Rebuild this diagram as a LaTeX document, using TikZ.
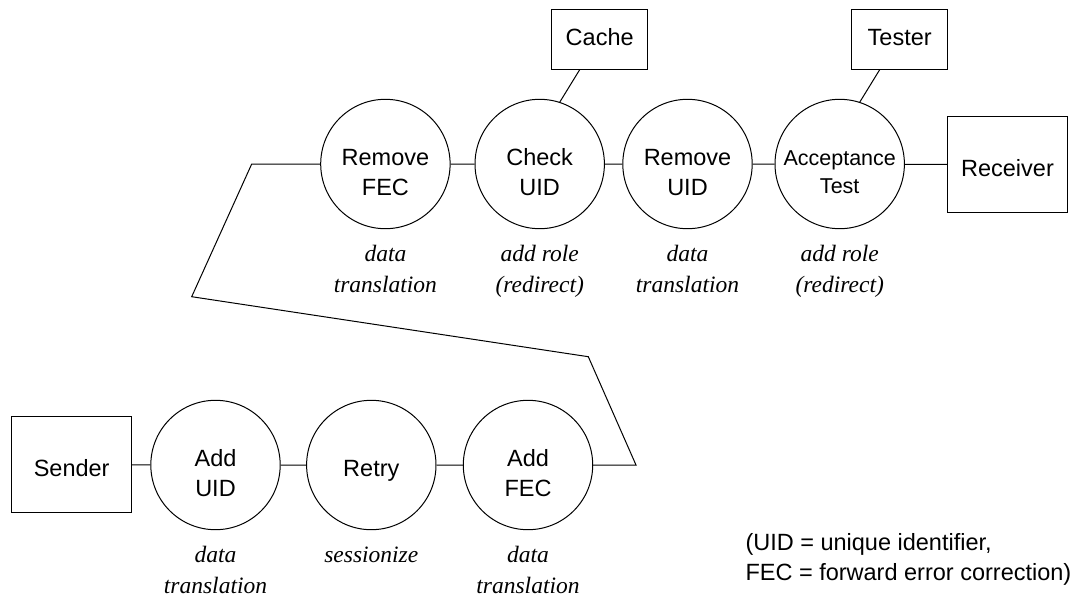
\documentclass[tikz,border=0pt]{standalone}
\usepackage{fontspec}
\setmainfont{Liberation Serif}
\setsansfont{Liberation Sans}
\usetikzlibrary{calc}

\begin{document}
\begin{tikzpicture}[x=1pt, y=-1pt, line width=1pt,
  proc/.style={draw, circle, minimum size=129.4pt, inner sep=0pt},
  bigbox/.style={draw, minimum width=120pt, minimum height=96pt, inner sep=0pt},
  smallbox/.style={draw, minimum width=96pt, minimum height=60pt, inner sep=0pt},
  txt/.style={font=\sffamily\fontsize{23.5}{30}\selectfont, inner sep=0pt, align=center},
  txtsmall/.style={font=\sffamily\fontsize{21.5}{28.5}\selectfont, inner sep=0pt, align=center},
  role/.style={font=\rmfamily\itshape\fontsize{23.5}{31}\selectfont, inner sep=0pt, align=center, anchor=north},
]
\useasboundingbox (0,0) rectangle (1077,595);

% sending side
\node[bigbox] (sender) at (71.7,464.7) {};
\node[proc] (adduid) at (215.5,465) {};
\node[proc] (retry) at (371.3,465) {};
\node[proc] (addfec) at (528,465) {};

% receiving side
\node[proc] (rmfec) at (385.4,164) {};
\node[proc] (chkuid) at (539.7,164) {};
\node[proc] (rmuid) at (687.5,164) {};
\node[proc] (accept) at (839.7,164) {};
\node[bigbox] (receiver) at (1007.5,164.7) {};

% helpers
\node[smallbox] (cache) at (599.7,39) {};
\node[smallbox] (tester) at (899.7,39) {};

% stage names
\node[txt, anchor=base] (sender-t) at ($(sender)+(0,12)$) {Sender};
\node[txt, anchor=north] (adduid-t) at ($(adduid)+(0,-16.5)$) {Add\\UID};
\node[txt, anchor=base] (retry-t) at ($(retry)+(0,11.7)$) {Retry};
\node[txt, anchor=north] (addfec-t) at ($(addfec)+(0,-16.5)$) {Add\\FEC};
\node[txt, anchor=north] (rmfec-t) at ($(rmfec)+(0,-15.5)$) {Remove\\FEC};
\node[txt, anchor=north] (chkuid-t) at ($(chkuid)+(0,-16)$) {Check\\UID};
\node[txt, anchor=north] (rmuid-t) at ($(rmuid)+(0,-15.5)$) {Remove\\UID};
\node[txtsmall, anchor=north] (accept-t) at ($(accept)+(0,-14)$) {Acceptance\\Test};
\node[txt, anchor=base] (receiver-t) at ($(receiver)+(0,12)$) {Receiver};
\node[txt, anchor=base] (cache-t) at ($(cache)+(0,6)$) {Cache};
\node[txt, anchor=base] (tester-t) at ($(tester)+(0,6)$) {Tester};

% roles of the stages
\node[role] (adduid-r) at ($(adduid)+(0,81)$) {data\\translation};
\node[role] (retry-r) at ($(retry)+(0,81)$) {sessionize};
\node[role] (addfec-r) at ($(addfec)+(0,81)$) {data\\translation};
\node[role] (rmfec-r) at ($(rmfec)+(0,81)$) {data\\translation};
\node[role] (chkuid-r) at ($(chkuid)+(0,81)$) {add role\\(redirect)};
\node[role] (rmuid-r) at ($(rmuid)+(0,81)$) {data\\translation};
\node[role] (accept-r) at ($(accept)+(0,81)$) {add role\\(redirect)};

% legend
\node[txt, align=left, anchor=north west] (legend) at (745,532.5)
  {(UID = unique identifier,\\FEC = forward error correction)};

% bends of the link between the two rows
\coordinate (k1) at (636,465);
\coordinate (k2) at (588.3,356.7);
\coordinate (k3) at (191.7,296.7);
\coordinate (k4) at (251.7,164);

% connectors
\draw (sender) -- (adduid) -- (retry) -- (addfec);
\draw (addfec) -- (k1) -- (k2) -- (k3) -- (k4) -- (rmfec);
\draw (rmfec) -- (chkuid) -- (rmuid) -- (accept) -- (receiver);
\draw ($(cache.south west)!0.295!(cache.south east)$) -- (chkuid.72);
\draw ($(tester.south west)!0.295!(tester.south east)$) -- (accept.72);
\end{tikzpicture}
\end{document}
